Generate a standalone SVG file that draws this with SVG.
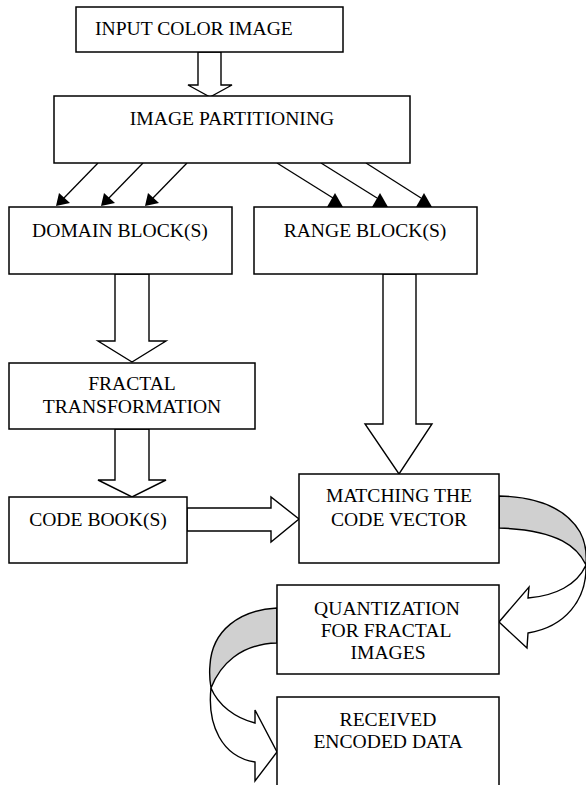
<svg xmlns="http://www.w3.org/2000/svg" width="586" height="785" viewBox="0 0 586 785">
<style>
.box{fill:#fff;stroke:#000;stroke-width:1.5}
.t{font-family:"Liberation Serif","Times New Roman",serif;font-size:19.6px;fill:#000;text-anchor:middle}
.blk{fill:#fff;stroke:#000;stroke-width:1.4;stroke-linejoin:miter}
.ln{stroke:#000;stroke-width:1.3;fill:none}
.hd{fill:#000;stroke:none}
.gray{fill:#d0d0d0;stroke:#000;stroke-width:1.4}
.wht{fill:#fff;stroke:#000;stroke-width:1.4}
</style>
<rect width="586" height="785" fill="#fff"/>
<g id="connectors">
<polygon class="blk" points="198,52 221,52 221,85 232,85 210,97 188,85 198,85"/>
<line class="ln" x1="98" y1="163" x2="63" y2="199"/>
<polygon class="hd" points="56,206 59,193 70,203"/>
<line class="ln" x1="143" y1="163" x2="108" y2="199"/>
<polygon class="hd" points="101,206 104,193 115,203"/>
<line class="ln" x1="187" y1="163" x2="152" y2="199"/>
<polygon class="hd" points="145,206 148,193 159,203"/>
<line class="ln" x1="277" y1="163" x2="333" y2="198"/>
<polygon class="hd" points="335,193 327,207 343,207"/>
<line class="ln" x1="321" y1="163" x2="377" y2="198"/>
<polygon class="hd" points="380,193 372,207 388,207"/>
<line class="ln" x1="366" y1="163" x2="421" y2="198"/>
<polygon class="hd" points="424,193 416,207 432,207"/>
<polygon class="blk" points="115,274 149,274 149,341 166,341 132,362 98,341 115,341"/>
<polygon class="blk" points="115,429 149,429 149,480 166,480 132,497 98,480 115,480"/>
<polygon class="blk" points="187,508 271,508 271,497 299,519 271,542 271,531 187,531"/>
<polygon class="blk" points="383,274 416,274 416,424 432,424 399,474 365,424 383,424"/>
<path class="gray" d="M499,496 C540,497 567,510 580,532 C586,543 587,553 586,565 C578,548 560,530 499,528 Z"/>
<path class="wht" d="M586,565 C587,600 565,627 528,633 L527,648 L499,622 L529,587 L528,598 C555,596 577,585 586,565 Z"/>
<path class="gray" d="M277,608 C240,610 212,630 210,665 C209,675 210,682 211,688 C220,665 240,644 277,643 Z"/>
<path class="wht" d="M211,688 C207,725 222,757 255,762 L255,781 L277,752 L255,710 L255,723 C235,718 218,705 211,688 Z"/>
</g>
<g id="input"><rect class="box" x="76" y="7" width="267" height="45"/><text class="t" x="95" y="35" style="text-anchor:start">INPUT COLOR IMAGE</text></g>
<g id="partition"><rect class="box" x="54" y="96" width="356" height="67"/><text class="t" x="232" y="125">IMAGE PARTITIONING</text></g>
<g id="domain"><rect class="box" x="9" y="207" width="223" height="67"/><text class="t" x="120" y="237">DOMAIN BLOCK(S)</text></g>
<g id="range"><rect class="box" x="254" y="207" width="223" height="67"/><text class="t" x="365" y="237">RANGE BLOCK(S)</text></g>
<g id="fractal"><rect class="box" x="9" y="363" width="246" height="66"/><text class="t" x="132" y="390">FRACTAL</text><text class="t" x="132" y="413">TRANSFORMATION</text></g>
<g id="codebook"><rect class="box" x="9" y="497" width="178" height="66"/><text class="t" x="98" y="526">CODE BOOK(S)</text></g>
<g id="matching"><rect class="box" x="299" y="474" width="200" height="89"/><text class="t" x="399" y="502">MATCHING THE</text><text class="t" x="399" y="526">CODE VECTOR</text></g>
<g id="quantization"><rect class="box" x="277" y="585" width="222" height="89"/><text class="t" x="387" y="615">QUANTIZATION</text><text class="t" x="386" y="637">FOR FRACTAL</text><text class="t" x="388" y="659">IMAGES</text></g>
<g id="received"><rect class="box" x="277" y="697" width="222" height="95"/><text class="t" x="388" y="726">RECEIVED</text><text class="t" x="388" y="748">ENCODED DATA</text></g>
</svg>
